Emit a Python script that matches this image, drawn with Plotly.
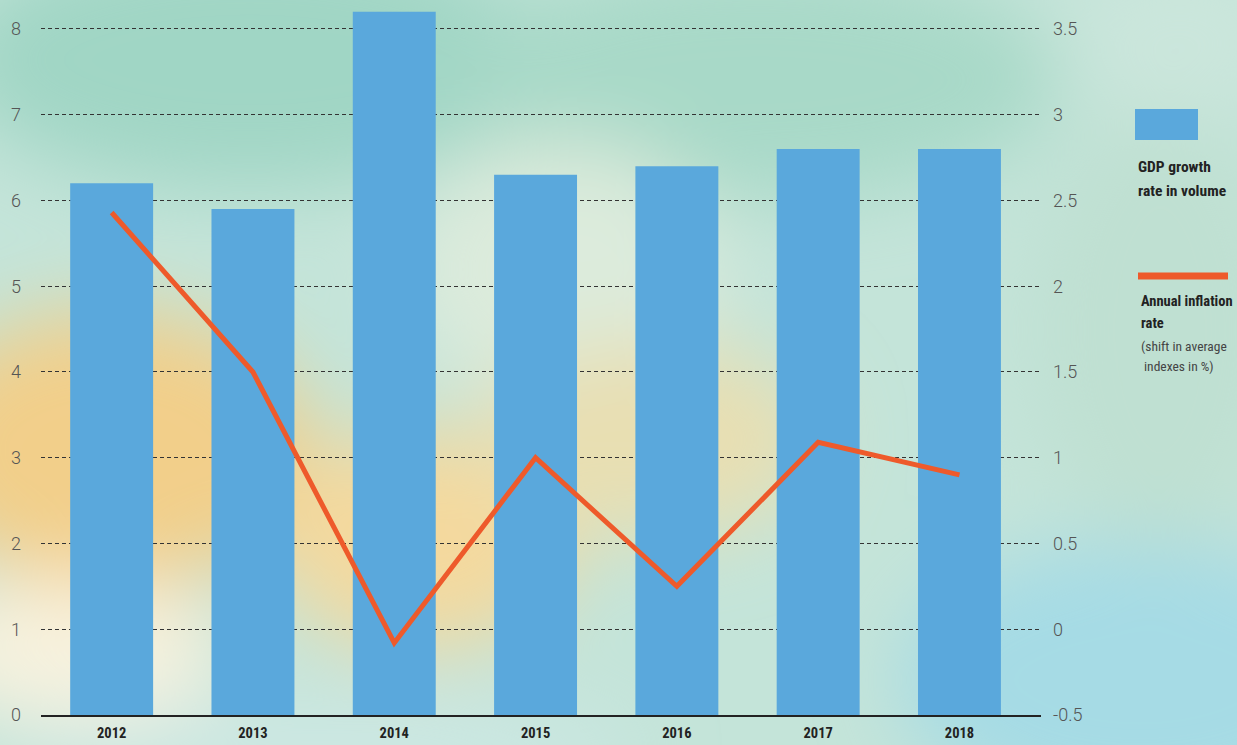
import base64
import plotly.graph_objects as go

# values
years = ["2012", "2013", "2014", "2015", "2016", "2017", "2018"]
gdp_growth = [6.2, 5.9, 8.2, 6.3, 6.4, 6.6, 6.6]
inflation = [2.43, 1.5, -0.08, 1.0, 0.25, 1.09, 0.9]
left_ticks = [0, 1, 2, 3, 4, 5, 6, 7, 8]
right_ticks = [-0.5, 0, 0.5, 1, 1.5, 2, 2.5, 3, 3.5]
right_labels = ["-0.5", "0", "0.5", "1", "1.5", "2", "2.5", "3", "3.5"]

BAR_COLOR = "#5aa8dc"
LINE_COLOR = "#ee5a2b"
FONT = "Roboto Condensed, DejaVu Sans Condensed, sans-serif"
NUM_FONT = "Roboto, DejaVu Sans, sans-serif"

# soft watercolour backdrop as an svg image
bg_svg = """<svg xmlns='http://www.w3.org/2000/svg' width='1237' height='745' viewBox='0 0 1237 745' preserveAspectRatio='none'>
<defs><filter id='b' x='-50%' y='-50%' width='200%' height='200%'><feGaussianBlur stdDeviation='40'/></filter></defs>
<rect width='1237' height='745' fill='#c4e4d9'/>
<g filter='url(#b)'>
<ellipse cx='250' cy='60' rx='300' ry='130' fill='#a0d6c5'/>
<ellipse cx='760' cy='80' rx='300' ry='120' fill='#a8d9c8'/>
<ellipse cx='1180' cy='40' rx='120' ry='80' fill='#cbe6dc'/>
<ellipse cx='560' cy='270' rx='160' ry='130' fill='#dcebdc'/>
<ellipse cx='110' cy='450' rx='200' ry='140' fill='#f2cf8a'/>
<ellipse cx='420' cy='540' rx='150' ry='110' fill='#f4d99e'/>
<ellipse cx='650' cy='440' rx='170' ry='100' fill='#e8dfb2'/>
<ellipse cx='70' cy='650' rx='160' ry='70' fill='#f8f2de'/>
<ellipse cx='1140' cy='680' rx='240' ry='140' fill='#a6dbe5'/>
<ellipse cx='320' cy='750' rx='320' ry='45' fill='#cde8e4'/>
<ellipse cx='1160' cy='330' rx='130' ry='220' fill='#bfe0d2'/>
</g>
</svg>"""
bg_uri = "data:image/svg+xml;base64," + base64.b64encode(bg_svg.encode()).decode()

fig = go.Figure()

fig.add_trace(go.Bar(
    x=years, y=gdp_growth, name="GDP growth rate in volume",
    marker=dict(color=BAR_COLOR, line=dict(width=0)),
))
fig.add_trace(go.Scatter(
    x=years, y=inflation, name="Annual inflation rate", yaxis="y2",
    mode="lines", line=dict(color=LINE_COLOR, width=5),
))

fig.update_layout(
    width=1237, height=745,
    margin=dict(l=41, r=196, t=0, b=30, autoexpand=False),
    paper_bgcolor="#c4e4d9",
    plot_bgcolor="rgba(0,0,0,0)",
    showlegend=False,
    bargap=0.413,
    font=dict(family=FONT, color="#444"),
    xaxis=dict(
        type="category", range=[-0.5, 6.577], automargin=False,
        showgrid=False, zeroline=False,
        showline=True, linecolor="#222", linewidth=2,
        ticks="", ticklabelstandoff=4,
        tickfont=dict(family=FONT, size=14.5, color="#222", weight="bold"),
    ),
    yaxis=dict(
        range=[0, 8.338], tickvals=left_ticks, automargin=False,
        showgrid=True, gridcolor="#333", gridwidth=1, griddash="4px,3px",
        zeroline=False, ticks="", ticklabelstandoff=19,
        tickfont=dict(family=NUM_FONT, size=18, color="#555", weight=300),
    ),
    yaxis2=dict(
        overlaying="y", side="right", automargin=False,
        range=[-0.5, 3.669], tickvals=right_ticks, ticktext=right_labels,
        showgrid=False, zeroline=False, ticks="", ticklabelstandoff=11,
        tickfont=dict(family=NUM_FONT, size=18, color="#555", weight=300),
    ),
    images=[dict(
        source=bg_uri, xref="paper", yref="paper",
        x=-0.041, y=1, sizex=1.237, sizey=745 / 715,
        xanchor="left", yanchor="top", sizing="stretch", layer="below",
    )],
)

# custom legend on the right
fig.add_shape(type="rect", xref="paper", yref="paper",
              x0=1.094, x1=1.157, y0=0.8042, y1=0.8476,
              fillcolor=BAR_COLOR, line=dict(width=0))
fig.add_shape(type="line", xref="paper", yref="paper",
              x0=1.097, x1=1.187, y0=0.614, y1=0.614,
              line=dict(color=LINE_COLOR, width=7))

legend_lines = [
    ("GDP growth", 1.095, 0.7664, 15.5, True),
    ("rate in volume", 1.095, 0.7329, 15.5, True),
    ("Annual inflation", 1.098, 0.5790, 14.5, True),
    ("rate", 1.098, 0.5469, 14.5, True),
    ("(shift in average", 1.098, 0.5161, 13.5, False),
    ("indexes in %)", 1.101, 0.4881, 13.5, False),
]
for txt, x, y, size, bold in legend_lines:
    fig.add_annotation(
        text=txt, xref="paper", yref="paper", x=x, y=y,
        xanchor="left", yanchor="middle", showarrow=False,
        font=dict(family=FONT, size=size, color="#222" if bold else "#444",
                  weight="bold" if bold else "normal"),
    )

fig.write_html("out.html", config={"displayModeBar": False},
               post_script="document.body.style.margin='0';")
